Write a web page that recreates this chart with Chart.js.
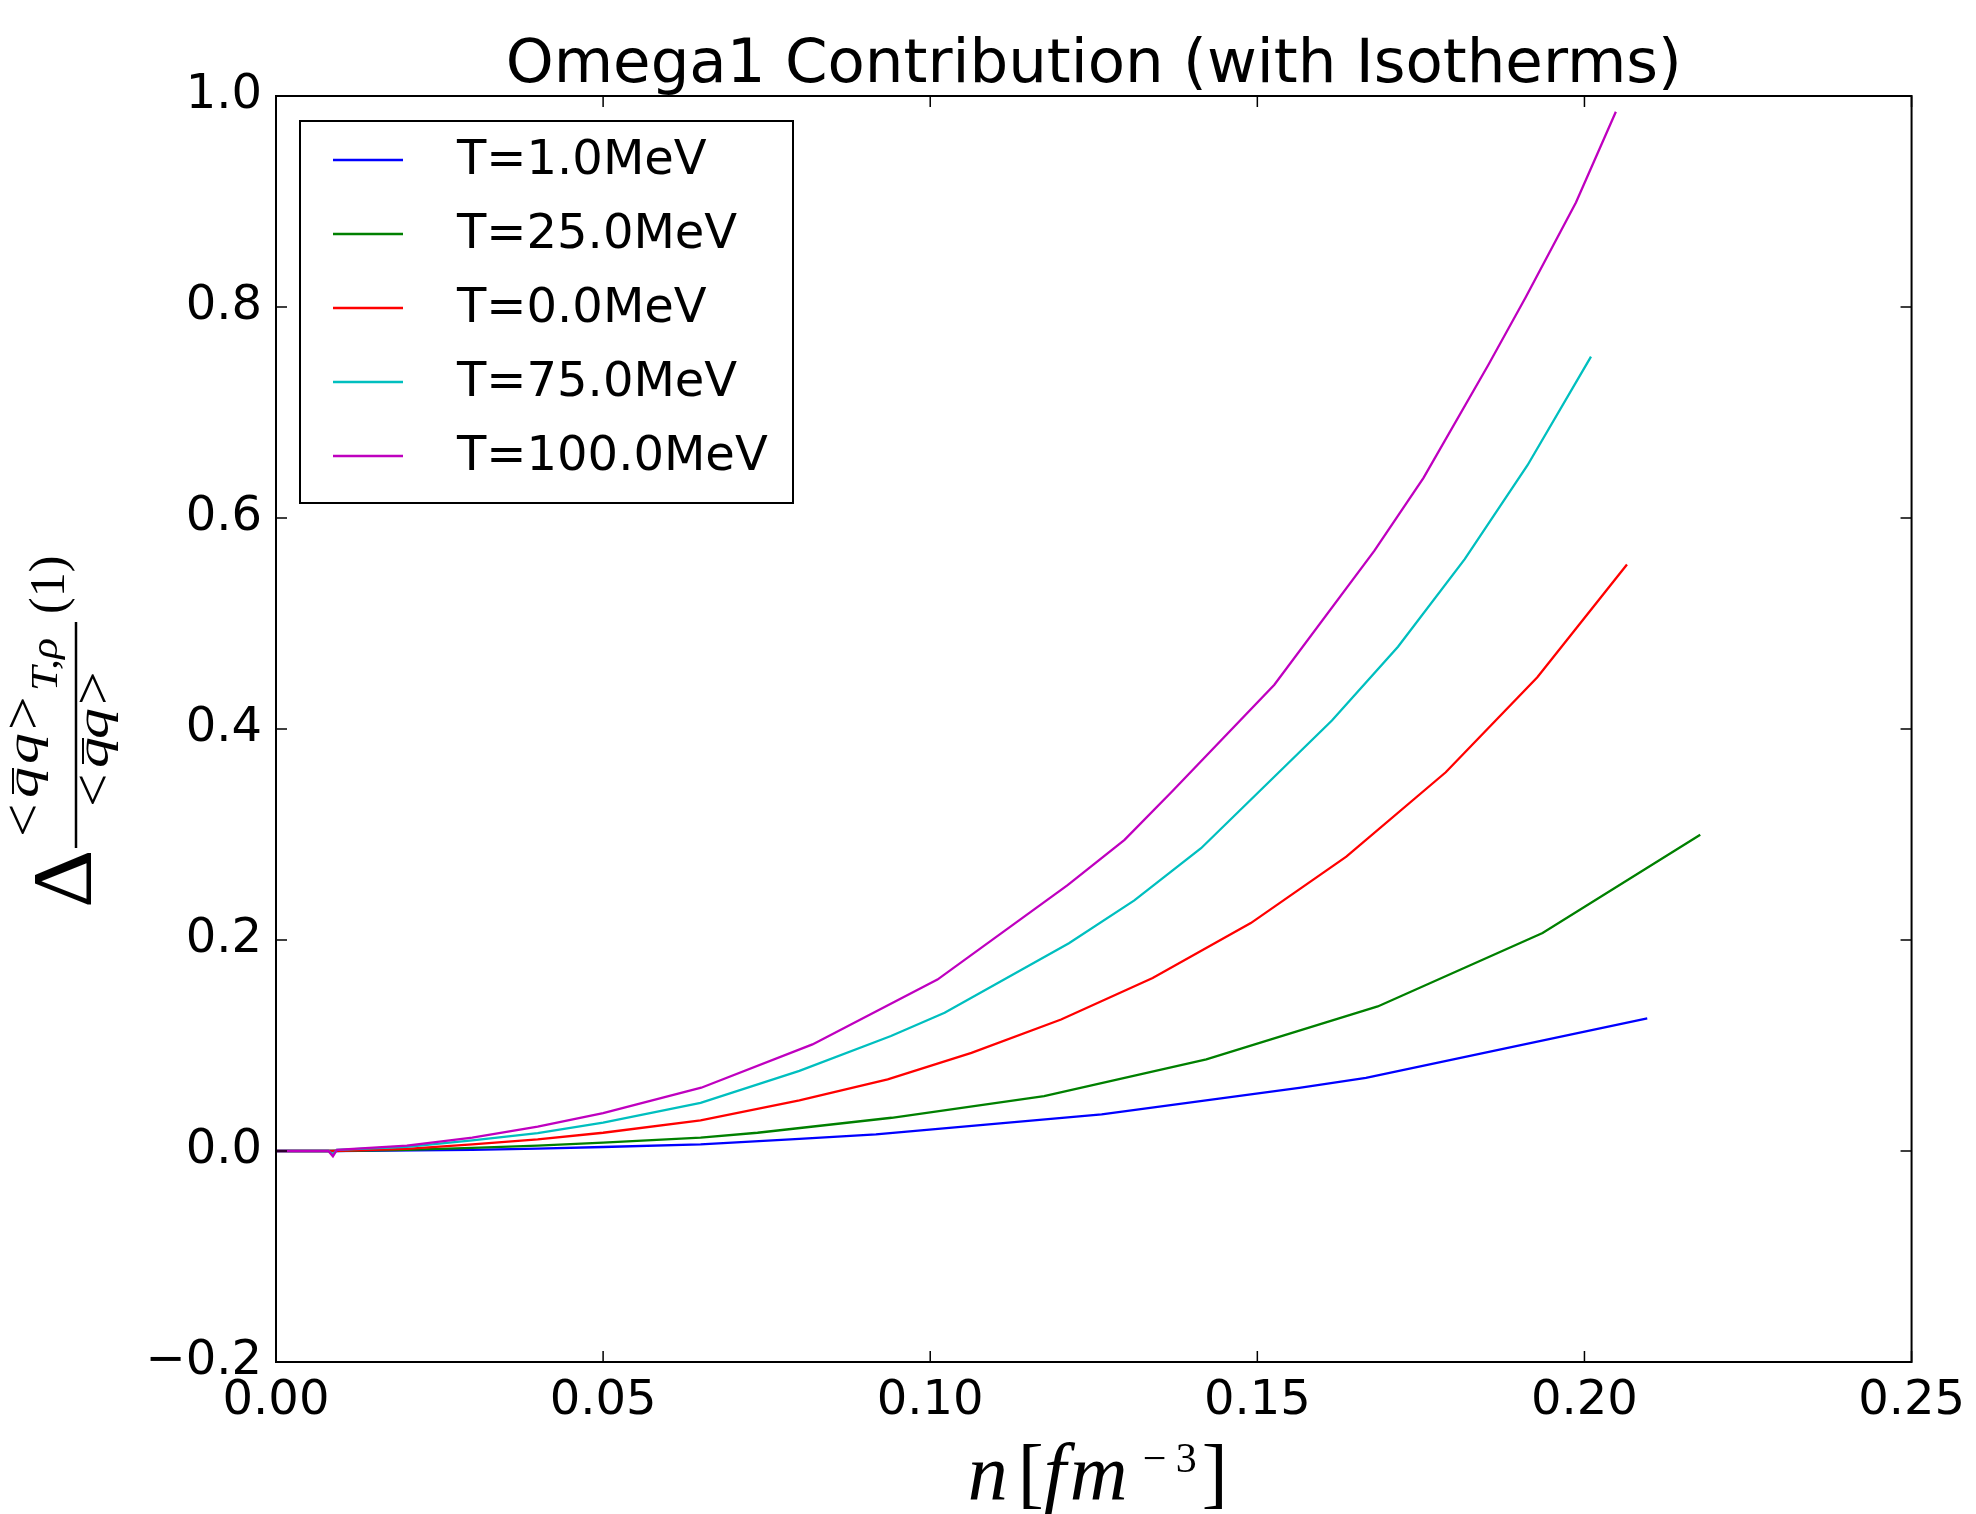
<!DOCTYPE html>
<html>
<head>
<meta charset="utf-8">
<title>Omega1 Contribution (with Isotherms)</title>
<script src="https://cdn.jsdelivr.net/npm/chart.js"></script>
<style>
  html, body { margin: 0; padding: 0; background: #fff; }
  #wrap { width: 1976px; height: 1514px; }
</style>
</head>
<body>
<div id="wrap"><canvas id="chart" width="1976" height="1514"></canvas></div>
<script>
// series names and colours (matplotlib classic b, g, r, c, m)
const seriesNames = ['T=1.0MeV', 'T=25.0MeV', 'T=0.0MeV', 'T=75.0MeV', 'T=100.0MeV'];
const seriesColors = ['#0000ff', '#008000', '#ff0000', '#00bfbf', '#bf00bf'];

// density n [fm^-3] and contribution values
const n_T1 = [0, 0.0085, 0.03, 0.04, 0.05, 0.0649, 0.08, 0.0917, 0.1262, 0.1564, 0.1666, 0.2096];
const d_T1 = [0, 0, 0.001, 0.0022, 0.0038, 0.0063, 0.0115, 0.0158, 0.0347, 0.0599, 0.0694, 0.1256];

const n_T25 = [0, 0.0085, 0.02, 0.03, 0.04, 0.05, 0.0649, 0.0736, 0.0941, 0.1174, 0.1422, 0.1684, 0.1936, 0.2177];
const d_T25 = [0, 0, 0.001, 0.003, 0.005, 0.0079, 0.0126, 0.0173, 0.0315, 0.052, 0.0868, 0.137, 0.2066, 0.2997];

const n_T0 = [0, 0.0085, 0.02, 0.03, 0.04, 0.05, 0.0649, 0.08, 0.0935, 0.1063, 0.12, 0.134, 0.149, 0.1636, 0.1788, 0.1928, 0.2065];
const d_T0 = [0, 0, 0.002, 0.0063, 0.011, 0.0173, 0.029, 0.048, 0.0678, 0.093, 0.1246, 0.164, 0.216, 0.279, 0.359, 0.449, 0.556];

const n_T75 = [0, 0.008, 0.0087, 0.0093, 0.02, 0.03, 0.04, 0.05, 0.0649, 0.08, 0.094, 0.1022, 0.1212, 0.1312, 0.1414, 0.1614, 0.1715, 0.1817, 0.1913, 0.201];
const d_T75 = [0, 0, -0.003, 0.001, 0.004, 0.010, 0.017, 0.027, 0.0457, 0.076, 0.109, 0.131, 0.197, 0.2375, 0.287, 0.408, 0.478, 0.561, 0.650, 0.753];

const n_T100 = [0, 0.008, 0.0087, 0.0093, 0.02, 0.03, 0.04, 0.05, 0.065, 0.082, 0.1011, 0.121, 0.1297, 0.137, 0.1526, 0.1679, 0.1754, 0.1853, 0.191, 0.1987, 0.2048];
const d_T100 = [0, 0, -0.005, 0.001, 0.005, 0.0126, 0.023, 0.036, 0.060, 0.101, 0.1625, 0.252, 0.295, 0.341, 0.442, 0.569, 0.638, 0.745, 0.809, 0.899, 0.985];

const xTicks = [0, 0.05, 0.10, 0.15, 0.20, 0.25];
const yTicks = [-0.2, 0.0, 0.2, 0.4, 0.6, 0.8, 1.0];

const titleText = 'Omega1 Contribution (with Isotherms)';
const SANS = '"DejaVu Sans", sans-serif';
const SERIF = '"Liberation Serif", "DejaVu Serif", serif';

const xs = [n_T1, n_T25, n_T0, n_T75, n_T100];
const ys = [d_T1, d_T25, d_T0, d_T75, d_T100];

const datasets = seriesNames.map((name, i) => ({
  label: name,
  data: xs[i].map((x, j) => ({ x: x, y: ys[i][j] })),
  borderColor: seriesColors[i],
  backgroundColor: seriesColors[i],
  borderWidth: 2.3,
  pointRadius: 0,
  tension: 0,
  fill: false,
  order: seriesNames.length - i   // last series on top, like matplotlib
}));

function fmtY(v) {
  const s = Math.abs(v).toFixed(1);
  return v < -1e-9 ? '\u2212' + s : s;
}

// text turned 90deg counter-clockwise; (x, y) = baseline start on screen
function rotText(ctx, txt, x, y, font, stretch) {
  stretch = stretch || 1;
  ctx.save();
  ctx.translate(x, y);
  ctx.rotate(-Math.PI / 2);
  ctx.scale(stretch, 1);
  ctx.font = font;
  ctx.textAlign = 'left';
  ctx.textBaseline = 'alphabetic';
  ctx.fillText(txt, 0, 0);
  const w = ctx.measureText(txt).width * stretch;
  ctx.restore();
  return w;
}

function macron(ctx, x, y0, y1) {
  ctx.save();
  ctx.strokeStyle = '#000';
  ctx.lineWidth = 2;
  ctx.beginPath();
  ctx.moveTo(x, y0);
  ctx.lineTo(x, y1);
  ctx.stroke();
  ctx.restore();
}

// <q̄q> laid out along the screen y axis, positions relative to cy
function drawQQ(ctx, bx, cy, p) {
  const rel = '54px ' + SERIF;
  const it = 'italic 46px ' + SERIF;
  rotText(ctx, '<', bx + 3, cy + p[0], rel, 1.1);
  rotText(ctx, 'q', bx, cy + p[1], it, 1.35);
  macron(ctx, bx - 25, cy + p[1] - 4, cy + p[1] - 30);
  rotText(ctx, 'q', bx, cy + p[2], it, 1.35);
  rotText(ctx, '>', bx + 3, cy + p[3], rel, 1.1);
}

const decorPlugin = {
  id: 'decor',
  afterDraw(chart) {
    const ctx = chart.ctx;
    const ca = chart.chartArea;
    const sx = chart.scales.x, sy = chart.scales.y;
    ctx.save();

    // frame
    ctx.strokeStyle = '#000';
    ctx.lineWidth = 2;
    ctx.strokeRect(ca.left, ca.top, ca.right - ca.left, ca.bottom - ca.top);

    // inward ticks on all four sides
    ctx.lineWidth = 1.5;
    const tl = 11;
    ctx.beginPath();
    xTicks.forEach(v => {
      const px = sx.getPixelForValue(v);
      ctx.moveTo(px, ca.bottom); ctx.lineTo(px, ca.bottom - tl);
      ctx.moveTo(px, ca.top); ctx.lineTo(px, ca.top + tl);
    });
    yTicks.forEach(v => {
      const py = sy.getPixelForValue(v);
      ctx.moveTo(ca.left, py); ctx.lineTo(ca.left + tl, py);
      ctx.moveTo(ca.right, py); ctx.lineTo(ca.right - tl, py);
    });
    ctx.stroke();

    // title
    ctx.fillStyle = '#000';
    ctx.font = '61px ' + SANS;
    ctx.textAlign = 'center';
    ctx.textBaseline = 'alphabetic';
    ctx.fillText(titleText, (ca.left + ca.right) / 2, 82);

    // legend
    const lx = ca.left + 24, ly = ca.top + 25, lw = 493, lh = 382;
    ctx.fillStyle = '#fff';
    ctx.fillRect(lx, ly, lw, lh);
    ctx.strokeStyle = '#000';
    ctx.lineWidth = 2;
    ctx.strokeRect(lx, ly, lw, lh);
    ctx.font = '48px ' + SANS;
    ctx.textAlign = 'left';
    ctx.textBaseline = 'middle';
    seriesNames.forEach((name, i) => {
      const ry = ly + 39 + i * 74;
      ctx.strokeStyle = seriesColors[i];
      ctx.lineWidth = 2.3;
      ctx.beginPath();
      ctx.moveTo(lx + 33, ry); ctx.lineTo(lx + 103, ry);
      ctx.stroke();
      ctx.fillStyle = '#000';
      ctx.fillText(name, lx + 157, ry + 2);
    });

    // x axis label  n[fm^{-3}]
    const mx = (ca.left + ca.right) / 2, base = 1499;
    const itF = 'italic 80px ' + SERIF, upF = '78px ' + SERIF, supF = '42px ' + SERIF;
    ctx.fillStyle = '#000';
    ctx.textAlign = 'left';
    ctx.textBaseline = 'alphabetic';
    ctx.font = itF;  ctx.fillText('n', mx - 126, base);
    ctx.font = upF;  ctx.fillText('[', mx - 76, base);
    ctx.font = itF;  ctx.fillText('f', mx - 50, base);
    ctx.font = itF;  ctx.fillText('m', mx - 24, base);
    ctx.font = supF; ctx.fillText('\u2212', mx + 49, base - 27);
    ctx.font = supF; ctx.fillText('3', mx + 82, base - 27);
    ctx.font = upF;  ctx.fillText(']', mx + 108, base);

    // y axis label  Δ <q̄q>_{T,ρ} / <q̄q> (1), rotated
    const cy = (ca.top + ca.bottom) / 2;
    rotText(ctx, '\u0394', 91, cy + 179, '84px ' + SERIF, 1.08);
    drawQQ(ctx, 38, cy, [108, 69, 35, 1]);
    rotText(ctx, 'T,\u03c1', 57, cy - 38, 'italic 38px ' + SERIF, 1.15);
    ctx.strokeStyle = '#000';
    ctx.lineWidth = 2.5;
    ctx.beginPath();
    ctx.moveTo(76, cy + 119);
    ctx.lineTo(76, cy - 107);
    ctx.stroke();
    drawQQ(ctx, 108, cy, [78, 39, 10, -24]);
    rotText(ctx, '(1)', 64, cy - 115, '50px ' + SERIF, 1.0);

    ctx.restore();
  }
};

new Chart(document.getElementById('chart'), {
  type: 'line',
  data: { datasets: datasets },
  options: {
    responsive: false,
    animation: false,
    devicePixelRatio: 1,
    layout: { padding: { left: 0, top: 96, right: 63, bottom: 0 } },
    plugins: {
      legend: { display: false },
      title: { display: false },
      tooltip: { enabled: false }
    },
    scales: {
      x: {
        type: 'linear',
        min: 0,
        max: 0.25,
        afterFit: s => { s.height = 152; },
        afterBuildTicks: s => { s.ticks = xTicks.map(v => ({ value: v })); },
        grid: { display: false, drawTicks: false },
        border: { display: false },
        ticks: {
          color: '#000',
          font: { family: SANS, size: 48 },
          padding: 11,
          maxRotation: 0,
          autoSkip: false,
          callback: v => v.toFixed(2)
        }
      },
      y: {
        type: 'linear',
        min: -0.2,
        max: 1.0,
        afterFit: s => { s.width = 276; },
        afterBuildTicks: s => { s.ticks = yTicks.map(v => ({ value: v })); },
        grid: { display: false, drawTicks: false },
        border: { display: false },
        ticks: {
          color: '#000',
          font: { family: SANS, size: 48 },
          padding: 14,
          autoSkip: false,
          callback: v => fmtY(v)
        }
      }
    }
  },
  plugins: [decorPlugin]
});
</script>
</body>
</html>
